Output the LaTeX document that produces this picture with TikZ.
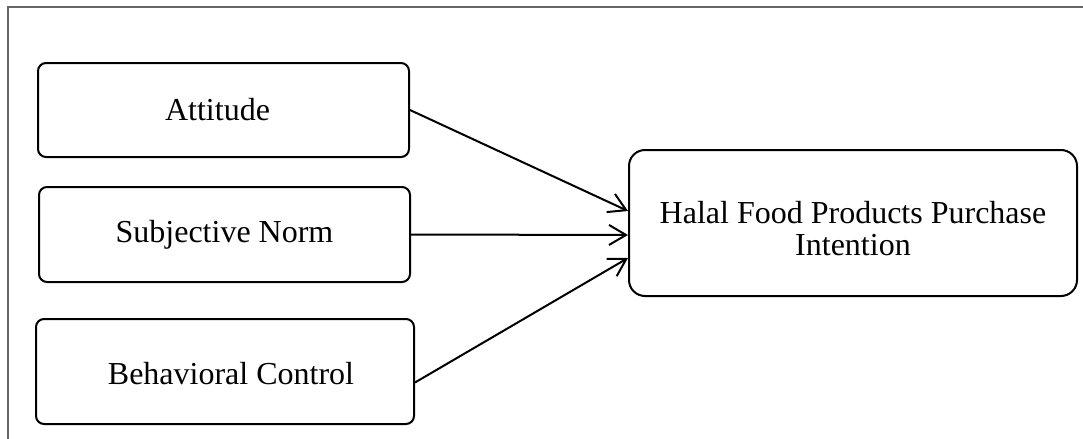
\documentclass[tikz,border=0pt]{standalone}
\usepackage{fontspec}
\setmainfont{Liberation Serif}
\usetikzlibrary{arrows.meta,calc}
\begin{document}
\begin{tikzpicture}[x=0.5pt,y=-0.5pt,
  box/.style={draw=black,line width=1pt,rounded corners=4pt,inner sep=0pt,anchor=north west},
  lbl/.style={font=\fontsize{16pt}{16pt}\selectfont,align=center,inner sep=0pt},
  conn/.style={draw=black,line width=1pt,-{Straight Barb[length=8.5pt,width=10pt,line width=1pt]}}]
\useasboundingbox (0,0) rectangle (1083,439);
\draw[gray!80!black,line width=0.6pt] (8,439) -- (8,7) -- (1083,7);
\node[box,minimum width=371*0.5pt,minimum height=94*0.5pt] (att) at (37,62) {};
\node[lbl] at ($(att.center)+(-6,0)$) {Attitude};
\node[box,minimum width=371*0.5pt,minimum height=95*0.5pt] (sn) at (38,186) {};
\node[lbl] at (sn.center) {Subjective Norm};
\node[box,minimum width=378*0.5pt,minimum height=105*0.5pt] (bc) at (35,318) {};
\node[lbl] at ($(bc.center)+(6,2)$) {Behavioral Control};
\node[box,rounded corners=8pt,minimum width=448*0.5pt,minimum height=146*0.5pt] (hp) at (628,149) {};
\node[lbl] at ($(hp.center)+(0,6)$) {Halal Food Products Purchase\\Intention};
\draw[conn] (att.east) -- ($(hp.west)+(0,-12)$);
\draw[conn] (sn.east) -- ($(hp.west)+(0,12)$);
\draw[conn] ($(bc.east)+(0,11)$) -- ($(hp.west)+(0,35)$);
\end{tikzpicture}
\end{document}
